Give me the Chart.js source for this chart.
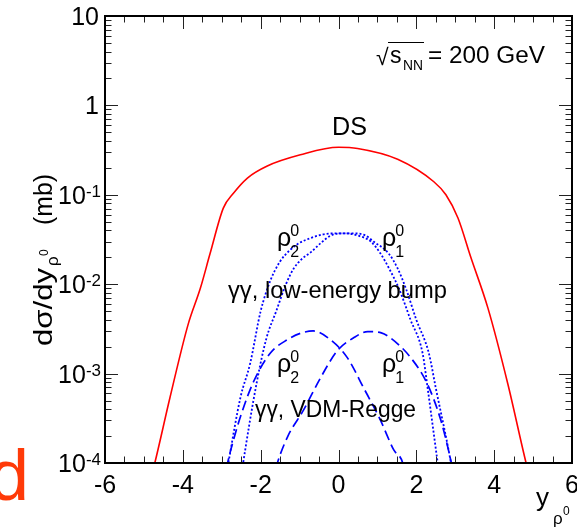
<!DOCTYPE html>
<html>
<head>
<meta charset="utf-8">
<script src="https://cdn.jsdelivr.net/npm/chart.js@4.4.0/dist/chart.umd.min.js"></script>
<style>
  html, body { margin: 0; padding: 0; background: #fff; }
  canvas { display: block; }
</style>
</head>
<body>
<canvas id="myChart" width="577" height="531"></canvas>
<script>
// Data (x = rapidity, y = dsigma/dy in mb)
const dsX = [-4.9, -4.72, -4.33, -3.86, -3.55, -3.30, -2.96, -2.70, -2.34, -1.83, -0.98, 0, 0.49, 1.52, 2.45, 2.76, 3.07, 3.40, 3.84, 4.35, 4.82, 5.0];
const dsY = [5e-5, 1e-4, 5.4e-4, 3.6e-3, 9e-3, 0.022, 0.071, 0.104, 0.154, 0.21, 0.28, 0.34, 0.33, 0.25, 0.14, 0.10, 0.055, 0.020, 0.0054, 7.7e-4, 1e-4, 5e-5];

const lowRho2X = [-2.95, -2.83, -2.52, -2.27, -2.0, -1.75, -1.5, -1.25, -1.0, -0.7, -0.4, -0.1, 0.2, 0.5, 0.83, 1.08, 1.3, 1.55, 1.85, 2.16, 2.29, 2.55, 2.65];
const lowRho2Y = [5e-5, 1e-4, 5.4e-4, 1.3e-3, 5e-3, 0.011, 0.018, 0.024, 0.029, 0.033, 0.036, 0.037, 0.037, 0.035, 0.030, 0.022, 0.015, 0.009, 4e-3, 1.7e-3, 6.9e-4, 1e-4, 5e-5];

const lowRho1X = [-2.55, -2.45, -2.1, -1.85, -1.6, -1.35, -1.15, -0.95, -0.7, -0.45, -0.2, 0.1, 0.4, 0.7, 0.9, 1.29, 1.52, 1.73, 2.0, 2.32, 2.50, 2.89, 3.0];
const lowRho1Y = [5e-5, 1e-4, 8e-4, 2.5e-3, 5e-3, 0.010, 0.015, 0.019, 0.023, 0.029, 0.035, 0.037, 0.037, 0.035, 0.030, 0.022, 0.015, 0.009, 4e-3, 1.7e-3, 6.9e-4, 1e-4, 5e-5];

const vdmRho2X = [-2.95, -2.85, -2.7, -2.5, -2.19, -1.75, -1.31, -0.95, -0.65, -0.21, 0.23, 0.64, 1.08, 1.42, 1.65, 1.75];
const vdmRho2Y = [6e-5, 1e-4, 1.8e-4, 3.5e-4, 8e-4, 1.7e-3, 2.4e-3, 2.85e-3, 3.0e-3, 2.4e-3, 1.5e-3, 7e-4, 3e-4, 1.4e-4, 1e-4, 6e-5];

const vdmRho1X = [-1.7, -1.57, -1.3, -0.9, -0.46, -0.03, 0.38, 0.75, 1.1, 1.34, 1.86, 2.28, 2.63, 2.9, 3.0];
const vdmRho1Y = [6e-5, 1e-4, 2e-4, 3.9e-4, 9e-4, 1.8e-3, 2.5e-3, 2.95e-3, 2.85e-3, 2.5e-3, 1.5e-3, 7.7e-4, 3e-4, 1e-4, 6e-5];

// tick labels
const xTickLabels = [-6, -4, -2, 0, 2, 4, 6];
const yTickExps = [-4, -3, -2, -1, 0, 1];

const FONT = '"Liberation Sans", Arial, Helvetica, sans-serif';

let toPoints = (xs, ys) => xs.map((x, i) => ({ x: x, y: ys[i] }));

let line = (label, xs, ys, color, dash, width) => ({
    label: label,
    data: toPoints(xs, ys),
    showLine: true,
    borderColor: color,
    borderWidth: width,
    borderDash: dash,
    pointRadius: 0,
    fill: false,
    cubicInterpolationMode: 'monotone'
});

// draw text, optionally squeezed/stretched to a width measured on the picture
let fitText = (ctx, str, x, y, size, w) => {
    ctx.font = size + 'px ' + FONT;
    let nat = ctx.measureText(str).width;
    let sx = w ? w / nat : 1;
    ctx.save();
    ctx.translate(x, y);
    ctx.scale(sx, 1);
    ctx.fillText(str, 0, 0);
    ctx.restore();
    return nat * sx;
};

const decorations = {
    id: 'decorations',
    afterDraw(chart) {
        const ctx = chart.ctx;
        const a = chart.chartArea;
        const xs = chart.scales.x;
        const ys = chart.scales.y;
        ctx.save();

        // ticks (inside, on all four sides)
        ctx.strokeStyle = '#222';
        ctx.lineWidth = 1;
        ctx.beginPath();
        for (let e = -4; e <= 1; e++) {
            for (let m = 1; m <= 9; m++) {
                let v = m * Math.pow(10, e);
                if (v > 10.0001) break;
                let y = Math.round(ys.getPixelForValue(v)) + 0.5;
                let len = m === 1 ? 13 : 6.5;
                ctx.moveTo(a.left, y); ctx.lineTo(a.left + len, y);
                ctx.moveTo(a.right, y); ctx.lineTo(a.right - len, y);
            }
        }
        for (let v = -6; v <= 6; v += 0.5) {
            let x = Math.round(xs.getPixelForValue(v)) + 0.5;
            let len = (v % 2 === 0) ? 13 : 6.5;
            ctx.moveTo(x, a.bottom); ctx.lineTo(x, a.bottom - len);
            ctx.moveTo(x, a.top); ctx.lineTo(x, a.top + len);
        }
        ctx.stroke();

        // frame
        ctx.strokeStyle = '#000';
        ctx.lineWidth = 2;
        ctx.strokeRect(a.left, a.top, a.right - a.left, a.bottom - a.top);

        ctx.fillStyle = '#000';
        ctx.textBaseline = 'alphabetic';

        // x tick labels
        ctx.textAlign = 'center';
        ctx.font = '25px ' + FONT;
        xTickLabels.forEach(v => {
            ctx.fillText(String(v), xs.getPixelForValue(v), 493);
        });

        // y tick labels
        ctx.textAlign = 'right';
        yTickExps.forEach(e => {
            let y = ys.getPixelForValue(Math.pow(10, e));
            ctx.font = '25px ' + FONT;
            if (e === 0) {
                ctx.fillText('1', 99, y + 9);
            } else if (e === 1) {
                ctx.fillText('10', 99, y + 9);
            } else {
                ctx.font = '17px ' + FONT;
                let sup = String(e);
                let sw = ctx.measureText(sup).width;
                ctx.fillText(sup, 101, y + 2);
                ctx.font = '25px ' + FONT;
                ctx.fillText('10', 101 - sw, y + 9);
            }
        });

        // y axis title, rotated
        ctx.save();
        ctx.translate(52, 346);
        ctx.rotate(-Math.PI / 2);
        ctx.textAlign = 'left';
        fitText(ctx, 'd\u03c3/dy', 0, 0, 25, 78);
        ctx.font = '17px ' + FONT;
        ctx.fillText('\u03c1', 80, 6);
        ctx.font = '12px ' + FONT;
        ctx.fillText('0', 90, -4);
        fitText(ctx, '(mb)', 121, 0, 25, 51);
        ctx.restore();

        // x axis title
        ctx.textAlign = 'left';
        fitText(ctx, 'y', 536, 506, 26, 0);
        ctx.font = '17px ' + FONT;
        ctx.fillText('\u03c1', 553, 524);
        ctx.font = '12px ' + FONT;
        ctx.fillText('0', 563, 515);

        // energy label
        fitText(ctx, '\u221a', 376, 65, 23, 0);
        fitText(ctx, 's', 390, 63, 23, 0);
        fitText(ctx, 'NN', 403, 70, 15, 20);
        fitText(ctx, '= 200 GeV', 428, 63, 23, 117);
        ctx.lineWidth = 1;
        ctx.beginPath();
        ctx.moveTo(388, 42.5); ctx.lineTo(424, 42.5);
        ctx.stroke();

        // curve labels
        fitText(ctx, 'DS', 332, 135, 25, 35);
        fitText(ctx, '\u03b3\u03b3, low-energy bump', 228, 298, 24, 219);
        fitText(ctx, '\u03b3\u03b3, VDM-Regge', 255, 417, 24, 161);

        let rho = (x, base, idx) => {
            ctx.font = '25px ' + FONT;
            ctx.fillText('\u03c1', x, base);
            let rw2 = ctx.measureText('\u03c1').width;
            ctx.font = '16px ' + FONT;
            ctx.fillText('0', x + rw2 - 1, base - 10);
            ctx.fillText(idx, x + rw2 - 1, base + 11);
        };
        rho(277, 246, '2');
        rho(382, 246, '1');
        rho(277, 372, '2');
        rho(382, 372, '1');

        // cut-off red letter at the lower left
        ctx.fillStyle = '#ff3a08';
        ctx.textAlign = 'right';
        ctx.font = '72px ' + FONT;
        ctx.fillText('d', 29, 500);

        ctx.restore();
    }
};

new Chart(document.getElementById('myChart').getContext('2d'), {
    type: 'scatter',
    data: {
        datasets: [
            line('DS', dsX, dsY, '#ff0000', [], 1.6),
            line('low rho2', lowRho2X, lowRho2Y, '#0000ff', [2, 2], 1.8),
            line('low rho1', lowRho1X, lowRho1Y, '#0000ff', [2, 2], 1.8),
            line('vdm rho2', vdmRho2X, vdmRho2Y, '#0000ff', [10, 5], 1.7),
            line('vdm rho1', vdmRho1X, vdmRho1Y, '#0000ff', [10, 5], 1.7)
        ]
    },
    options: {
        responsive: false,
        animation: false,
        devicePixelRatio: 1,
        layout: { padding: { left: 105, right: 5, top: 16, bottom: 68 } },
        plugins: { legend: { display: false }, tooltip: { enabled: false } },
        scales: {
            x: { type: 'linear', min: -6, max: 6, display: false },
            y: { type: 'logarithmic', min: 1e-4, max: 10, display: false }
        }
    },
    plugins: [decorations]
});
</script>
</body>
</html>
